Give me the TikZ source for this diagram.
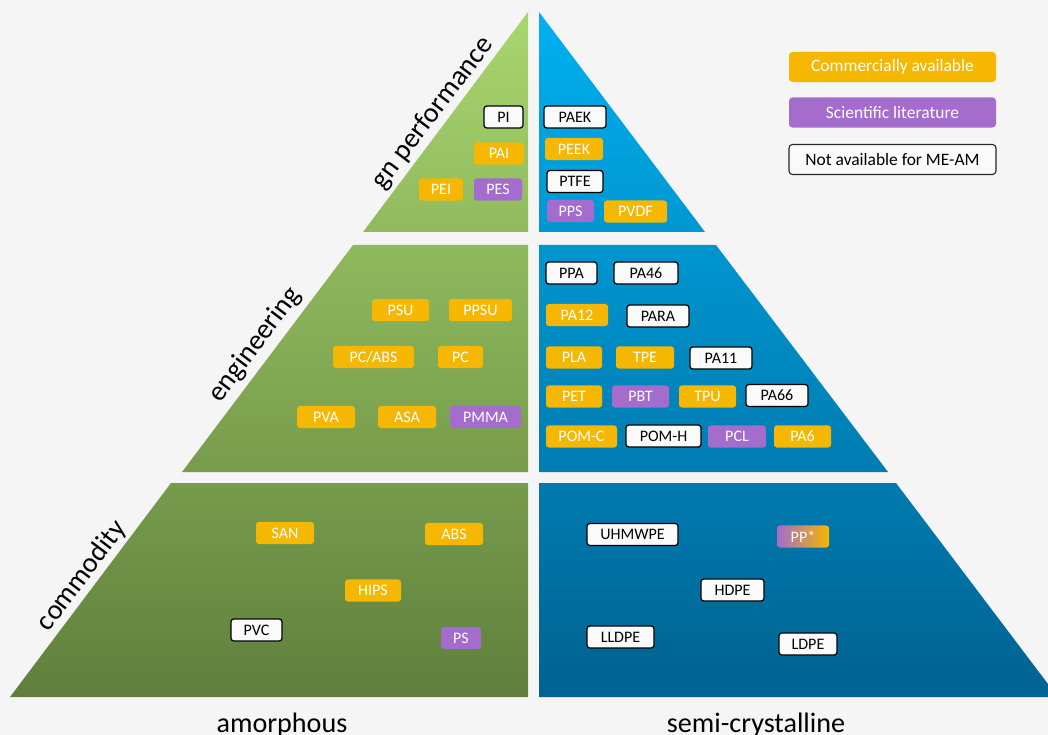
\documentclass[tikz,border=0pt]{standalone}
\usepackage{fontspec}
\setmainfont{Carlito}
\definecolor{bgGrey}{RGB}{245,245,245}
\definecolor{comOrange}{RGB}{245,183,0}
\definecolor{sciPurple}{RGB}{164,108,204}
\definecolor{naWhite}{RGB}{250,250,250}
\definecolor{grA}{RGB}{168,214,110}
\definecolor{grB}{RGB}{145,186,94}
\definecolor{grC}{RGB}{143,185,93}
\definecolor{grD}{RGB}{119,156,76}
\definecolor{grE}{RGB}{118,155,76}
\definecolor{grF}{RGB}{95,128,60}
\definecolor{blA}{RGB}{0,176,240}
\definecolor{blB}{RGB}{0,151,210}
\definecolor{blC}{RGB}{0,149,208}
\definecolor{blD}{RGB}{0,124,176}
\definecolor{blE}{RGB}{0,122,175}
\definecolor{blF}{RGB}{0,98,145}
\tikzset{wd/.style={minimum width=#1*0.025cm}}
\begin{document}
\begin{tikzpicture}[x=0.025cm, y=0.025cm]
			\tikzstyle{poly}=[rounded corners=2pt, minimum height=0.55cm, inner sep=0pt, font=\fontsize{11.4}{13}\selectfont]
			\tikzstyle{com}=[poly, fill=comOrange, text=white]
			\tikzstyle{sci}=[poly, fill=sciPurple, text=white]
			\tikzstyle{nav}=[poly, fill=naWhite, draw=black, line width=0.9pt, text=black]
			\tikzstyle{legend}=[rounded corners=2.5pt, minimum height=0.75cm, wd=207, inner sep=0pt, font=\fontsize{12.4}{14}\selectfont]
			\tikzstyle{tierlabel}=[font=\fontsize{20}{24}\selectfont, inner sep=0pt, rotate=53]
			\tikzstyle{axislabel}=[font=\fontsize{20}{24}\selectfont, inner sep=0pt, anchor=base]
			\useasboundingbox (0,0) rectangle (1048,-735);
			\fill [bgGrey] (0,0) rectangle (1048,-735);
			% pyramid tiers
			\shade [top color=grA, bottom color=grB] (528,-12) -- (528,-232) -- (363,-232) -- cycle;
			\shade [top color=blA, bottom color=blB] (539,-12) -- (705,-232) -- (539,-232) -- cycle;
			\shade [top color=grC, bottom color=grD] (353,-245) -- (528,-245) -- (528,-472) -- (182,-472) -- cycle;
			\shade [top color=blC, bottom color=blD] (539,-245) -- (716,-245) -- (888,-472) -- (539,-472) -- cycle;
			\shade [top color=grE, bottom color=grF] (171,-483) -- (528,-483) -- (528,-697) -- (10,-697) -- cycle;
			\shade [top color=blE, bottom color=blF] (539,-483) -- (896,-483) -- (1048,-684) -- (1048,-697) -- (539,-697) -- cycle;
			% tier labels
			\node [tierlabel] (high) at (433,-113) {gn performance};
			\node [tierlabel] (eng) at (255,-345) {engineering};
			\node [tierlabel] (commod) at (82,-576) {commodity};
			\node [axislabel] (amorph) at (282,-732) {amorphous};
			\node [axislabel] (semicr) at (756,-732) {semi-crystalline};
			% legend
			\node [legend, fill=comOrange, text=white] (legcom) at (892.5,-67) {Commercially available};
			\node [legend, fill=sciPurple, text=white] (legsci) at (892.5,-112.5) {Scientific literature};
			\node [legend, fill=naWhite, draw=black!85, line width=0.8pt] (legna) at (892.5,-159.5) {Not available for ME-AM};
			% high performance
			\node [nav, wd=39] (pi) at (503.5,-117) {PI};
			\node [com, wd=50] (pai) at (499,-153.5) {PAI};
			\node [com, wd=44] (pei) at (441,-189.5) {PEI};
			\node [sci, wd=48] (pes) at (498,-189.5) {PES};
			\node [nav, wd=62] (paek) at (575,-117) {PAEK};
			\node [com, wd=58] (peek) at (574,-149) {PEEK};
			\node [nav, wd=56] (ptfe) at (575,-181.5) {PTFE};
			\node [sci, wd=47] (pps) at (570.5,-211) {PPS};
			\node [com, wd=63] (pvdf) at (635.5,-211.5) {PVDF};
			% engineering
			\node [com, wd=57] (psu) at (400.5,-310) {PSU};
			\node [com, wd=63] (ppsu) at (480.5,-310) {PPSU};
			\node [com, wd=81] (pcabs) at (373.5,-357) {PC/ABS};
			\node [com, wd=45] (pc) at (460.5,-357) {PC};
			\node [com, wd=58] (pva) at (326,-417) {PVA};
			\node [com, wd=58] (asa) at (407,-417) {ASA};
			\node [sci, wd=71] (pmma) at (485.5,-417) {PMMA};
			\node [nav, wd=51] (ppa) at (571.5,-273) {PPA};
			\node [nav, wd=64] (pa46) at (646,-273) {PA46};
			\node [com, wd=62] (pa12) at (577,-315) {PA12};
			\node [nav, wd=62] (para) at (658,-316) {PARA};
			\node [com, wd=56] (pla) at (574,-357.5) {PLA};
			\node [com, wd=58] (tpe) at (645,-357.5) {TPE};
			\node [nav, wd=62] (pa11) at (721,-358) {PA11};
			\node [com, wd=56] (pet) at (574,-396.5) {PET};
			\node [sci, wd=57] (pbt) at (640.5,-396.5) {PBT};
			\node [com, wd=57] (tpu) at (707.5,-396.5) {TPU};
			\node [nav, wd=62] (pa66) at (777,-395.5) {PA66};
			\node [com, wd=71] (pomc) at (581.5,-436.5) {POM-C};
			\node [nav, wd=75] (pomh) at (663.5,-436) {POM-H};
			\node [sci, wd=58] (pcl) at (737,-436.5) {PCL};
			\node [com, wd=57] (pa6) at (802.5,-436.5) {PA6};
			% commodity
			\node [com, wd=58] (san) at (285,-533) {SAN};
			\node [com, wd=58] (abs) at (454,-534) {ABS};
			\node [com, wd=56] (hips) at (373,-590.5) {HIPS};
			\node [nav, wd=51] (pvc) at (256.5,-630) {PVC};
			\node [sci, wd=40] (ps) at (461,-638) {PS};
			\node [nav, wd=91] (uhmwpe) at (632.5,-534.5) {UHMWPE};
			\node [poly, wd=52, left color=sciPurple, right color=comOrange, text=white] (pp) at (803,-536.5) {PP*};
			\node [nav, wd=63] (hdpe) at (732.5,-590) {HDPE};
			\node [nav, wd=67] (lldpe) at (620.5,-637) {LLDPE};
			\node [nav, wd=58] (ldpe) at (808,-644) {LDPE};
		\end{tikzpicture}
\end{document}
